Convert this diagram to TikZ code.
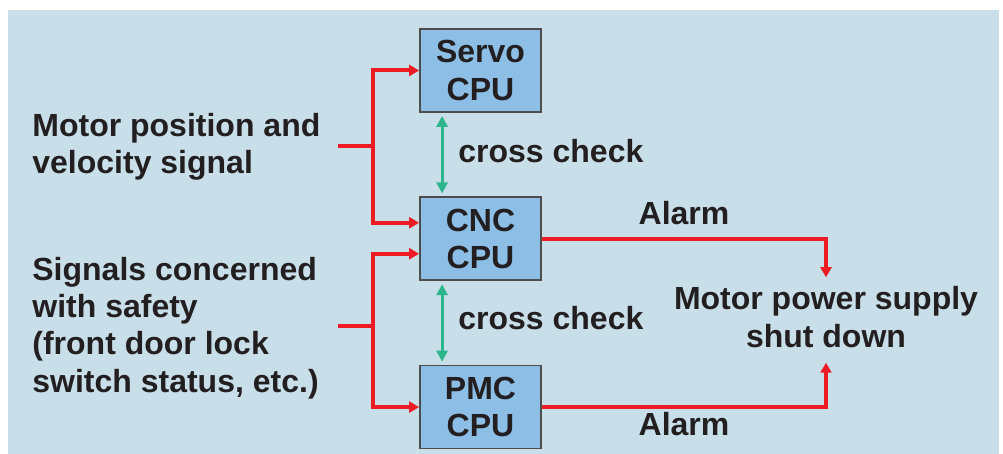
\documentclass[tikz,border=0pt]{standalone}
\usepackage{fontspec}
\setmainfont{Liberation Sans}
\usetikzlibrary{positioning, calc, arrows.meta}
\definecolor{panelblue}{RGB}{200,223,233}
\definecolor{boxblue}{RGB}{140,190,230}
\definecolor{alarmred}{RGB}{237,28,36}
\definecolor{checkgreen}{RGB}{45,182,140}
\definecolor{inkgray}{RGB}{35,31,32}

\begin{document}
\begin{tikzpicture}[
        x=0.5pt, y=-0.5pt,
        node distance=41.75pt,
        every node/.style={text=inkgray, font=\fontsize{16}{18.6}\selectfont\bfseries},
        cpu/.style={rectangle, draw=inkgray!80, fill=boxblue, line width=0.9pt, minimum width=60.5pt, minimum height=41.5pt, align=center, inner sep=0pt},
        sigtext/.style={align=left, inner sep=0pt},
        sig/.style={draw=alarmred, line width=2pt, -{Triangle[length=5pt, width=5.5pt]}},
        check/.style={draw=checkgreen, line width=1.6pt, {Triangle[length=5.5pt, width=5.5pt]}-{Triangle[length=5.5pt, width=5.5pt]}, shorten <=1.5pt, shorten >=1.5pt}
    ]
        \useasboundingbox (0,0) rectangle (1003,454);
        \fill[panelblue] (8,10) rectangle (999,454);

        \node[cpu] (servo) at (480.5,70.5) {Servo\\CPU};
        \node[cpu, below=of servo] (cnc) {CNC\\CPU};
        \node[cpu, below=of cnc] (pmc) {PMC\\CPU};

        \node[sigtext, anchor=west] (motorsig) at (32,147) {Motor position and\\velocity signal};
        \node[sigtext, anchor=west] (safetysig) at (32,328) {Signals concerned\\with safety\\(front door lock\\switch status, etc.)};
        \node[align=center, inner sep=0pt] (shutdown) at (826,317) {Motor power supply\\shut down};

        \node[anchor=base, inner sep=0pt] (alarmcnc) at (684,225) {Alarm};
        \node[anchor=base, inner sep=0pt] (alarmpmc) at (684,436) {Alarm};
        \node[anchor=base west, inner sep=0pt] (checkA) at (458,163) {cross check};
        \node[anchor=base west, inner sep=0pt] (checkB) at (458,330) {cross check};

        % signal inputs
        \coordinate (in1) at (338,146);
        \coordinate (fork1) at (373,146);
        \coordinate (in2) at (338,326);
        \coordinate (fork2) at (373,326);
        \draw[sig] (in1) -- (fork1) |- (servo.west);
        \draw[sig] (fork1) |- ($(cnc.west)+(0,-16)$);
        \draw[sig] (in2) -- (fork2) |- ($(cnc.west)+(0,15)$);
        \draw[sig] (fork2) |- (pmc.west);

        % alarms
        \draw[sig] (cnc.east) -| ($(shutdown.north)+(0,-9)$);
        \draw[sig] (pmc.east) -| ($(shutdown.south)+(0,15)$);

        % cross checks
        \draw[check] ($(servo.south west)+(23,0)$) -- ($(cnc.north west)+(23,0)$);
        \draw[check] ($(cnc.south west)+(23,0)$) -- ($(pmc.north west)+(23,0)$);
    \end{tikzpicture}
\end{document}
